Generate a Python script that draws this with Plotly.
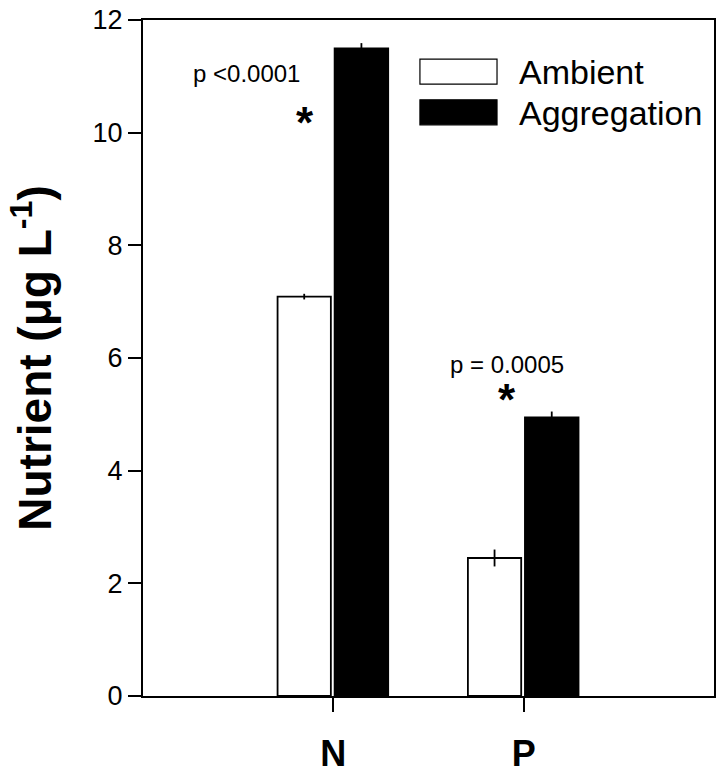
import plotly.graph_objects as go

categories = ["N", "P"]
ambient = [7.09, 2.45]
ambient_err = [0.05, 0.15]
aggregation = [11.50, 4.95]
aggregation_err = [0.09, 0.10]
series_names = ["Ambient", "Aggregation"]
y_ticks = [0, 2, 4, 6, 8, 10, 12]
p_labels = ["p <0.0001", "p = 0.0005"]

FONT = "Liberation Sans, Arial, sans-serif"

fig = go.Figure()
fig.add_trace(go.Bar(
    x=categories, y=ambient, name=series_names[0],
    marker=dict(color="white", line=dict(color="black", width=1.8)),
    offset=-0.293, width=0.28,
    error_y=dict(type="data", array=ambient_err, visible=True, color="black", thickness=1.8, width=0),
    showlegend=False,
))
fig.add_trace(go.Bar(
    x=categories, y=aggregation, name=series_names[1],
    marker=dict(color="black", line=dict(color="black", width=1.5)),
    offset=0.006, width=0.283,
    error_y=dict(type="data", array=aggregation_err, visible=True, color="black", thickness=1.8, width=0),
    showlegend=False,
))

# significance annotations
fig.add_annotation(x=-0.455, y=11.05, text=p_labels[0], showarrow=False,
                   font=dict(family=FONT, size=24, color="black"))
fig.add_annotation(x=-0.15, y=10.18, text="<b>*</b>", showarrow=False,
                   font=dict(family=FONT, size=44, color="black"))
fig.add_annotation(x=0.914, y=5.88, text=p_labels[1], showarrow=False,
                   font=dict(family=FONT, size=24, color="black"))
fig.add_annotation(x=0.914, y=5.27, text="<b>*</b>", showarrow=False,
                   font=dict(family=FONT, size=44, color="black"))

# manual legend
legend_fills = ["white", "black"]
legend_rows = [(0.905, 0.942, 0.923), (0.845, 0.882, 0.862)]
for name, fill, (y0, y1, yt) in zip(series_names, legend_fills, legend_rows):
    fig.add_shape(type="rect", xref="paper", yref="paper", x0=0.485, x1=0.620, y0=y0, y1=y1,
                  fillcolor=fill, line=dict(color="black", width=1.2))
    fig.add_annotation(xref="paper", yref="paper", x=0.655, y=yt, text=name, showarrow=False,
                       xanchor="left", yanchor="middle",
                       font=dict(family=FONT, size=34, color="black"))

fig.update_layout(
    width=723, height=774,
    margin=dict(l=143, r=9, t=20, b=78, autoexpand=False),
    plot_bgcolor="white", paper_bgcolor="white",
    font=dict(family=FONT, color="black"),
    barmode="group",
)
fig.update_xaxes(
    type="category", range=[-1, 2],
    showline=True, linecolor="black", linewidth=2, mirror=True,
    ticks="outside", ticklen=14, tickwidth=1.8, tickcolor="black",
    tickfont=dict(family=FONT, size=36, color="black"),
    ticktext=["<b>N</b>", "<b>P</b>"], tickvals=categories,
    ticklabelstandoff=11,
    showgrid=False, zeroline=False, automargin=False,
)
fig.update_yaxes(
    range=[0, 12.0005], tickvals=y_ticks,
    showline=True, linecolor="black", linewidth=2, mirror=True,
    ticks="outside", ticklen=13, tickwidth=1.8, tickcolor="black",
    tickfont=dict(family=FONT, size=27, color="black"),
    ticklabeloverflow="allow",
    showgrid=False, zeroline=False, automargin=False,
    title=dict(text="<b>Nutrient (μg L<sup>-1</sup>)</b>", font=dict(family=FONT, size=46, color="black"),
               standoff=26),
)

fig.write_html("out.html", config={"displayModeBar": False},
               post_script="document.body.style.margin='0';")
